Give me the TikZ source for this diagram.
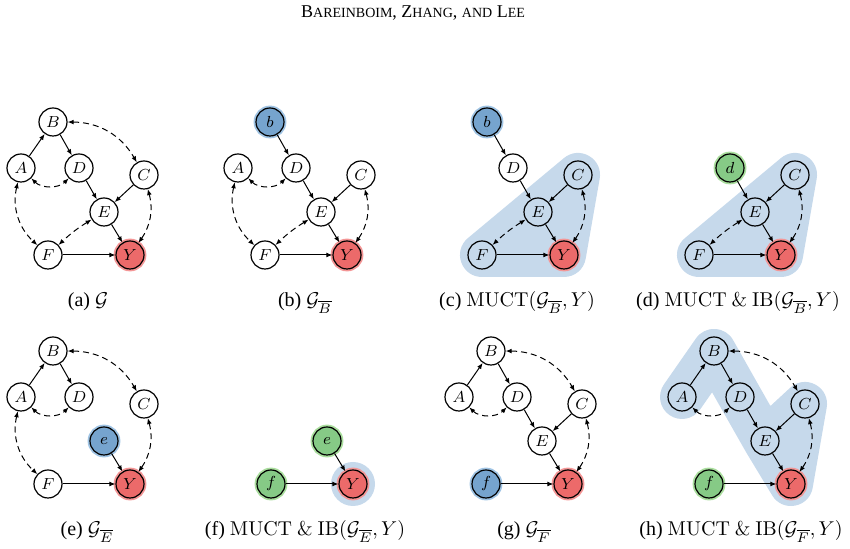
\documentclass[tikz,border=0pt]{standalone}
\usepackage{amssymb}
\usepackage{amsmath}
\usepackage[no-math]{fontspec}
\setmainfont{Liberation Serif}
\usepackage{tikz}
\usetikzlibrary{arrows.meta, backgrounds}

\definecolor{yred}{RGB}{236,106,106}
\definecolor{yredhalo}{RGB}{244,150,150}
\definecolor{doblue}{RGB}{118,164,206}
\definecolor{dobluehalo}{RGB}{160,196,228}
\definecolor{ibgreen}{RGB}{134,202,134}
\definecolor{ibgreenhalo}{RGB}{170,222,158}
\definecolor{muctblue}{RGB}{198,217,235}

\newcommand{\hdrbig}[1]{{\fontsize{9}{10}\selectfont #1}}
\newcommand{\hdrsmall}[1]{{\fontsize{7}{8}\selectfont #1}}

\begin{document}
\begin{tikzpicture}[x=0.5pt, y=0.5pt,
				vnode/.style={draw, circle, minimum size=14pt, inner sep=0pt, line width=0.6pt, font={\fontsize{8}{9}\selectfont}},
				ynode/.style={vnode, fill=yred, preaction={draw=yredhalo, line width=2.4pt}},
				donode/.style={vnode, fill=doblue, preaction={draw=dobluehalo, line width=2.4pt}},
				ibnode/.style={vnode, fill=ibgreen, preaction={draw=ibgreenhalo, line width=2.4pt}},
				arr/.style={-{Latex[length=3pt,width=2.4pt]}, line width=0.5pt},
				biarr/.style={{Latex[length=3pt,width=2.4pt]}-{Latex[length=3pt,width=2.4pt]}, line width=0.5pt, dash pattern=on 3pt off 2pt},
				hull/.style={draw=muctblue, line width=22pt, line join=round, line cap=round},
				subcap/.style={anchor=base, font={\fontsize{10}{12}\selectfont}},
				]
				\useasboundingbox (0,0) rectangle (850,549);
				
				\node[anchor=base, font={\fontsize{9}{10}\selectfont}] (hdr) at (413,531)
				{\hdrbig{B}\hdrsmall{AREINBOIM}, \hdrbig{Z}\hdrsmall{HANG}, \hdrsmall{AND} \hdrbig{L}\hdrsmall{EE}};
				
				%% ── (a) the graph G ─────────────────────────────────────────────────
				\begin{scope}
					\node[vnode] (aA) at (21,381)  {$A$};
					\node[vnode] (aB) at (53,427)  {$B$};
					\node[vnode] (aC) at (144,374) {$C$};
					\node[vnode] (aD) at (79,381)  {$D$};
					\node[vnode] (aE) at (104,337) {$E$};
					\node[vnode] (aF) at (48,294)  {$F$};
					\node[ynode] (aY) at (130,294) {$Y$};
					
					\draw[arr] (aA) -- (aB);
					\draw[arr] (aB) -- (aD);
					\draw[arr] (aD) -- (aE);
					\draw[arr] (aC) -- (aE);
					\draw[arr] (aE) -- (aY);
					\draw[arr] (aF) -- (aY);
					\draw[biarr] (aB) to[bend left=30] (aC);
					\draw[biarr] (aA) to[bend right=45] (aD);
					\draw[biarr] (aA) to[bend right=30] (aF);
					\draw[biarr] (aE) to[bend right=6] (aF);
					\draw[biarr] (aC) to[bend left=25] (aY);
					
					\node[subcap] (capa) at (88,242) {(a) $\mathcal{G}$};
				\end{scope}
				
				%% ── (b) do(B) ───────────────────────────────────────────────────────
				\begin{scope}[shift={(217,0)}]
					\node[vnode]  (bA) at (21,381)  {$A$};
					\node[donode] (bB) at (53,427)  {$b$};
					\node[vnode]  (bC) at (144,374) {$C$};
					\node[vnode]  (bD) at (79,381)  {$D$};
					\node[vnode]  (bE) at (104,337) {$E$};
					\node[vnode]  (bF) at (48,294)  {$F$};
					\node[ynode]  (bY) at (130,294) {$Y$};
					
					\draw[arr] (bB) -- (bD);
					\draw[arr] (bD) -- (bE);
					\draw[arr] (bC) -- (bE);
					\draw[arr] (bE) -- (bY);
					\draw[arr] (bF) -- (bY);
					\draw[biarr] (bA) to[bend right=45] (bD);
					\draw[biarr] (bA) to[bend right=30] (bF);
					\draw[biarr] (bE) to[bend right=6] (bF);
					\draw[biarr] (bC) to[bend left=25] (bY);
					
					\node[subcap] (capb) at (88,242) {(b) $\mathcal{G}_{\overline{B}}$};
				\end{scope}
				
				%% ── (c) MUCT of G_B ─────────────────────────────────────────────────
				\begin{scope}[shift={(434,0)}]
					\node[donode] (cB) at (53,427)  {$b$};
					\node[vnode]  (cC) at (144,374) {$C$};
					\node[vnode]  (cD) at (79,381)  {$D$};
					\node[vnode]  (cE) at (104,337) {$E$};
					\node[vnode]  (cF) at (48,294)  {$F$};
					\node[ynode]  (cY) at (130,294) {$Y$};
					
					\begin{scope}[on background layer]
						\draw[hull, fill=muctblue] (cC.center) -- (cF.center) -- (cY.center) -- cycle;
					\end{scope}
					
					\draw[arr] (cB) -- (cD);
					\draw[arr] (cD) -- (cE);
					\draw[arr] (cC) -- (cE);
					\draw[arr] (cE) -- (cY);
					\draw[arr] (cF) -- (cY);
					\draw[biarr] (cE) to[bend right=6] (cF);
					\draw[biarr] (cC) to[bend left=25] (cY);
					
					\node[subcap] (capc) at (83,242) {(c) $\mathrm{MUCT}(\mathcal{G}_{\overline{B}}, Y)$};
				\end{scope}
				
				%% ── (d) MUCT and IB of G_B ──────────────────────────────────────────
				\begin{scope}[shift={(651,0)}]
					\node[vnode]  (dC) at (144,374) {$C$};
					\node[ibnode] (dD) at (79,381)  {$d$};
					\node[vnode]  (dE) at (104,337) {$E$};
					\node[vnode]  (dF) at (48,294)  {$F$};
					\node[ynode]  (dY) at (130,294) {$Y$};
					
					\begin{scope}[on background layer]
						\draw[hull, fill=muctblue] (dC.center) -- (dF.center) -- (dY.center) -- cycle;
					\end{scope}
					
					\draw[arr] (dD) -- (dE);
					\draw[arr] (dC) -- (dE);
					\draw[arr] (dE) -- (dY);
					\draw[arr] (dF) -- (dY);
					\draw[biarr] (dE) to[bend right=6] (dF);
					\draw[biarr] (dC) to[bend left=25] (dY);
					
					\node[subcap] (capd) at (87,242) {(d) $\mathrm{MUCT}\ \&\ \mathrm{IB}(\mathcal{G}_{\overline{B}}, Y)$};
				\end{scope}
				
				%% ── (e) do(E) ───────────────────────────────────────────────────────
				\begin{scope}[shift={(0,-229)}]
					\node[vnode]  (eA) at (21,381)  {$A$};
					\node[vnode]  (eB) at (53,427)  {$B$};
					\node[vnode]  (eC) at (144,374) {$C$};
					\node[vnode]  (eD) at (79,381)  {$D$};
					\node[donode] (eE) at (104,337) {$e$};
					\node[vnode]  (eF) at (48,294)  {$F$};
					\node[ynode]  (eY) at (130,294) {$Y$};
					
					\draw[arr] (eA) -- (eB);
					\draw[arr] (eB) -- (eD);
					\draw[arr] (eE) -- (eY);
					\draw[arr] (eF) -- (eY);
					\draw[biarr] (eB) to[bend left=30] (eC);
					\draw[biarr] (eA) to[bend right=45] (eD);
					\draw[biarr] (eA) to[bend right=30] (eF);
					\draw[biarr] (eC) to[bend left=25] (eY);
					
					\node[subcap] (cape) at (87,242) {(e) $\mathcal{G}_{\overline{E}}$};
				\end{scope}
				
				%% ── (f) MUCT and IB of G_E ──────────────────────────────────────────
				\begin{scope}[shift={(223,-229)}]
					\node[ibnode] (fE) at (104,337) {$e$};
					\node[ibnode] (fF) at (48,294)  {$f$};
					\node[ynode]  (fY) at (130,294) {$Y$};
					
					\begin{scope}[on background layer]
						\fill[muctblue] (fY) circle[radius=11pt];
					\end{scope}
					
					\draw[arr] (fE) -- (fY);
					\draw[arr] (fF) -- (fY);
					
					\node[subcap] (capf) at (82,242) {(f) $\mathrm{MUCT}\ \&\ \mathrm{IB}(\mathcal{G}_{\overline{E}}, Y)$};
				\end{scope}
				
				%% ── (g) do(F) ───────────────────────────────────────────────────────
				\begin{scope}[shift={(438,-229)}]
					\node[vnode]  (gA) at (21,381)  {$A$};
					\node[vnode]  (gB) at (53,427)  {$B$};
					\node[vnode]  (gC) at (144,374) {$C$};
					\node[vnode]  (gD) at (79,381)  {$D$};
					\node[vnode]  (gE) at (104,337) {$E$};
					\node[donode] (gF) at (48,294)  {$f$};
					\node[ynode]  (gY) at (130,294) {$Y$};
					
					\draw[arr] (gA) -- (gB);
					\draw[arr] (gB) -- (gD);
					\draw[arr] (gD) -- (gE);
					\draw[arr] (gC) -- (gE);
					\draw[arr] (gE) -- (gY);
					\draw[arr] (gF) -- (gY);
					\draw[biarr] (gB) to[bend left=30] (gC);
					\draw[biarr] (gA) to[bend right=45] (gD);
					\draw[biarr] (gC) to[bend left=25] (gY);
					
					\node[subcap] (capg) at (86,242) {(g) $\mathcal{G}_{\overline{F}}$};
				\end{scope}
				
				%% ── (h) MUCT and IB of G_F ──────────────────────────────────────────
				\begin{scope}[shift={(661,-229)}]
					\node[vnode]  (hA) at (21,381)  {$A$};
					\node[vnode]  (hB) at (53,427)  {$B$};
					\node[vnode]  (hC) at (144,374) {$C$};
					\node[vnode]  (hD) at (79,381)  {$D$};
					\node[vnode]  (hE) at (104,337) {$E$};
					\node[ibnode] (hF) at (48,294)  {$f$};
					\node[ynode]  (hY) at (130,294) {$Y$};
					
					\begin{scope}[on background layer]
						\draw[hull] (hA.center) -- (hB.center) -- (hD.center) -- (hE.center)
						-- (hY.center) -- (hC.center) -- (hE.center);
					\end{scope}
					
					\draw[arr] (hA) -- (hB);
					\draw[arr] (hB) -- (hD);
					\draw[arr] (hD) -- (hE);
					\draw[arr] (hC) -- (hE);
					\draw[arr] (hE) -- (hY);
					\draw[arr] (hF) -- (hY);
					\draw[biarr] (hB) to[bend left=30] (hC);
					\draw[biarr] (hA) to[bend right=45] (hD);
					\draw[biarr] (hC) to[bend left=25] (hY);
					
					\node[subcap] (caph) at (80,242) {(h) $\mathrm{MUCT}\ \&\ \mathrm{IB}(\mathcal{G}_{\overline{F}}, Y)$};
				\end{scope}
				
			\end{tikzpicture}
\end{document}
